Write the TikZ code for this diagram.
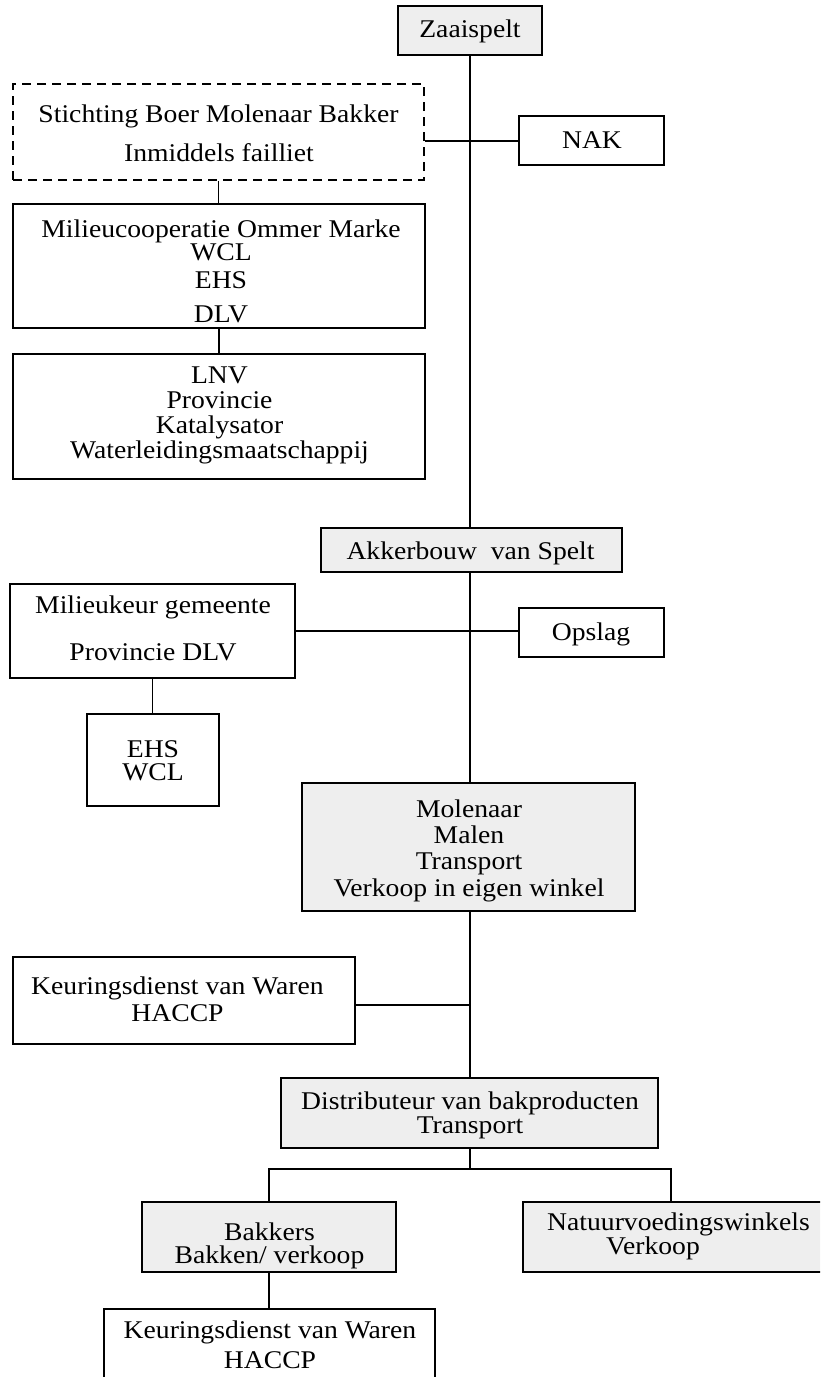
\documentclass[tikz,border=0pt]{standalone}
\usepackage{fontspec}
\setmainfont{Liberation Serif}[FakeStretch=1.084]
\definecolor{boxgray}{RGB}{238,238,238}
% box from (x1,y1) to (x2,y2), y counted downwards
\newcommand{\orgbox}[6][plainbox]{%
  \node[#1, minimum width={#4-#2}, minimum height={#5-#3}] (#6)
    at ({(#2+#4)/2},{(#3+#5)/2}) {};}
\begin{document}
\begin{tikzpicture}[x=1pt,y=-1pt,
  boxframe/.style={draw=black, line width=1.9pt, inner sep=0pt, rectangle},
  plainbox/.style={boxframe, fill=white},
  shadedbox/.style={boxframe, fill=boxgray},
  dashbox/.style={boxframe, line width=1.6pt, dash pattern=on 9pt off 6pt},
  lbl/.style={anchor=base, inner sep=0pt, font=\fontsize{25.5}{28}\selectfont},
  lblw/.style={lbl, anchor=base west},
  link/.style={line width=1.6pt}]
\useasboundingbox (0,0) rectangle (820,1377);
\clip (0,0) rectangle (820,1377);

% boxes
\orgbox[shadedbox]{398}{6}{542}{55}{zaai}
\orgbox[dashbox]{13}{84}{424}{180}{stich}
\orgbox[plainbox]{519}{116}{664}{165}{nak}
\orgbox[plainbox]{13}{204}{425}{328}{milieu}
\orgbox[plainbox]{13}{354}{425}{479}{lnv}
\orgbox[shadedbox]{321}{528}{622}{572}{akker}
\orgbox[plainbox]{10}{584}{295}{678}{mkeur}
\orgbox[plainbox]{519}{608}{664}{657}{opslag}
\orgbox[plainbox]{87}{714}{219}{806}{ehs}
\orgbox[shadedbox]{302}{783}{635}{911}{molen}
\orgbox[plainbox]{13}{957}{355}{1044}{keur}
\orgbox[shadedbox]{281}{1078}{658}{1148}{distr}
\orgbox[shadedbox]{142}{1202}{396}{1272}{bakk}
\orgbox[shadedbox]{523}{1202}{840}{1272}{natuur}
\orgbox[plainbox]{104}{1309}{435}{1400}{keurb}

% texts
\node[lbl] (zaai-t) at (470,37) {Zaaispelt};
\node[lbl] (stich-t1) at (218.5,122) {Stichting Boer Molenaar Bakker};
\node[lbl] (stich-t2) at (219,161) {Inmiddels failliet};
\node[lbl] (nak-t) at (592,148) {NAK};
\node[lbl] (milieu-t1) at (221,237) {Milieucooperatie Ommer Marke};
\node[lbl] (milieu-t2) at (221,260) {WCL};
\node[lbl] (milieu-t3) at (221,288) {EHS};
\node[lbl] (milieu-t4) at (221,322) {DLV};
\node[lbl] (lnv-t1) at (219.5,383) {LNV};
\node[lbl] (lnv-t2) at (219.5,408) {Provincie};
\node[lbl] (lnv-t3) at (219.5,433) {Katalysator};
\node[lbl] (lnv-t4) at (219.5,458) {Waterleidingsmaatschappij};
\node[lbl] (akker-t) at (470.5,559) {Akkerbouw\ \ van Spelt};
\node[lbl] (mkeur-t1) at (153,613) {Milieukeur gemeente};
\node[lbl] (mkeur-t2) at (153,660) {Provincie DLV};
\node[lbl] (opslag-t) at (591,640) {Opslag};
\node[lbl] (ehs-t1) at (153,757) {EHS};
\node[lbl] (ehs-t2) at (153,780) {WCL};
\node[lbl] (molen-t1) at (469,817) {Molenaar};
\node[lbl] (molen-t2) at (469,843) {Malen};
\node[lbl] (molen-t3) at (469,869) {Transport};
\node[lbl] (molen-t4) at (469,896) {Verkoop in eigen winkel};
\node[lbl] (keur-t1) at (177.5,994) {Keuringsdienst van Waren};
\node[lbl] (keur-t2) at (177.5,1021) {HACCP};
\node[lbl] (distr-t1) at (470,1109) {Distributeur van bakproducten};
\node[lbl] (distr-t2) at (470,1133) {Transport};
\node[lbl] (bakk-t1) at (269.5,1240) {Bakkers};
\node[lbl] (bakk-t2) at (269.5,1263) {Bakken/ verkoop};
\node[lblw] (natuur-t1) at (547,1230) {Natuurvoedingswinkels};
\node[lblw] (natuur-t2) at (606,1254) {Verkoop};
\node[lbl] (keurb-t1) at (270,1338) {Keuringsdienst van Waren};
\node[lbl] (keurb-t2) at (270,1368) {HACCP};

% connectors
\coordinate (spine) at (470,0);
\coordinate (nakjoin) at (470,141);
\coordinate (keurjoin) at (470,1005);
\coordinate (tjoin) at (470,1169);
\coordinate (natin) at (671,1202);
\draw[link] (zaai.south) -- (spine |- akker.north);
\draw[link] (spine |- akker.south) -- (spine |- molen.north);
\draw[link] (spine |- molen.south) -- (spine |- distr.north);
\draw[link] (stich.east |- nakjoin) -- (nak.west |- nakjoin);
\draw[link] (stich.south) -- (stich.south |- milieu.north);
\draw[link] (milieu.south) -- (milieu.south |- lnv.north);
\draw[link] (mkeur.east) -- (opslag.west |- mkeur.east);
\draw[link] (mkeur.south) -- (mkeur.south |- ehs.north);
\draw[link] (keur.east |- keurjoin) -- (keurjoin);
\draw[link] (spine |- distr.south) -- (tjoin);
\draw[link] (bakk.north) |- (natin |- tjoin) -- (natin);
\draw[link] (bakk.south) -- (bakk.south |- keurb.north);
\end{tikzpicture}
\end{document}
